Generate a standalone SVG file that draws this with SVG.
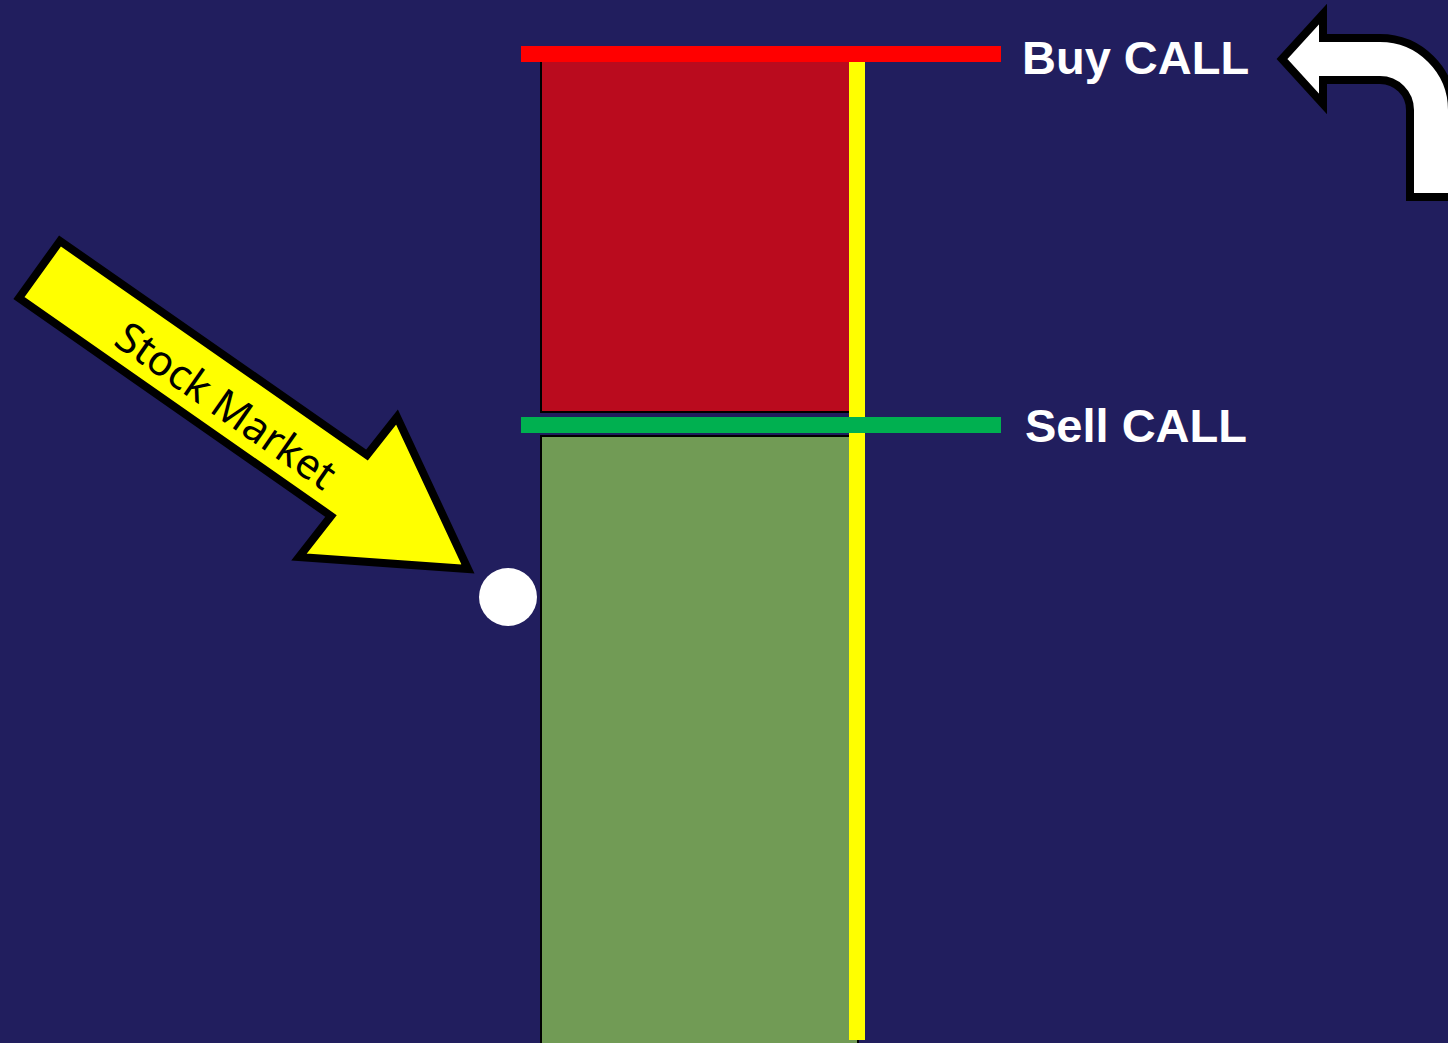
<svg xmlns="http://www.w3.org/2000/svg" width="1448" height="1043" viewBox="0 0 1448 1043">
<style>
.lbl{font-family:"Liberation Sans",Arial,sans-serif;font-weight:bold;font-size:47px;fill:#fff}
.arrowtxt{font-family:"Noto Sans","Open Sans",sans-serif;font-size:42px;fill:#000}
</style>
<rect width="1448" height="1043" fill="#211E5E"/>
<g id="red-zone"><rect x="541" y="55" width="317" height="357" fill="#BA0B1E" stroke="#000" stroke-width="2"/></g>
<g id="green-zone"><rect x="541" y="436" width="317" height="620" fill="#719B55" stroke="#000" stroke-width="2"/></g>
<g id="yellow-line"><rect x="849" y="62" width="16" height="978" fill="#FFFF00"/></g>
<g id="buy-line"><rect x="521" y="46" width="480" height="16" fill="#FF0000"/></g>
<g id="sell-line"><rect x="521" y="417" width="480" height="16" fill="#00B050"/></g>
<g id="buy-label"><text class="lbl" x="1022" y="74">Buy CALL</text></g>
<g id="sell-label"><text class="lbl" x="1025" y="442">Sell CALL</text></g>
<g id="dot"><circle cx="508" cy="597" r="29" fill="#fff"/></g>
<g id="stock-arrow">
<path d="M60,241 L19,298 L331,516 L299,557 L468,569 L397,417 L367,455 Z" fill="#FFFF00" stroke="#000" stroke-width="8" stroke-linejoin="miter"/>
<text class="arrowtxt" transform="translate(227,404) rotate(34.9)" text-anchor="middle" dominant-baseline="central">Stock Market</text>
</g>
<g id="bend-arrow">
<path d="M1282,59 L1323,14 L1323,38 L1380,38 A72,72 0 0 1 1452,110 L1452,197 L1410,197 L1410,110 A30,30 0 0 0 1380,80 L1323,80 L1323,104 Z" fill="#fff" stroke="#000" stroke-width="8"/>
</g>
</svg>
